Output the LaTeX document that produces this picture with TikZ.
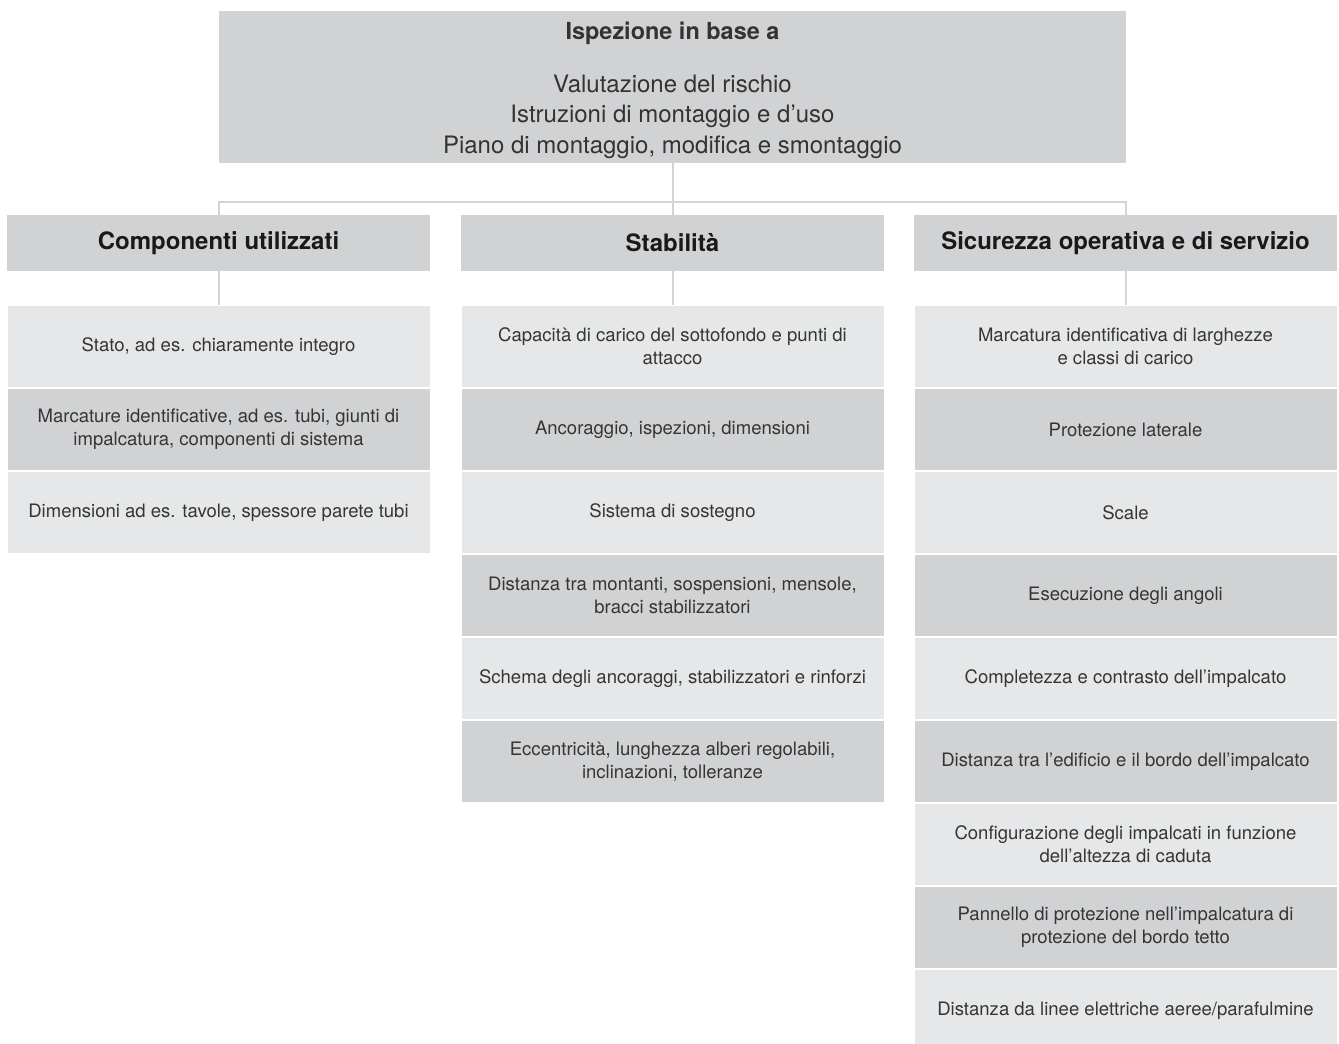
\documentclass[tikz,border=0pt]{standalone}
\usepackage{fontspec}
\setmainfont{TeX Gyre Heros}
\usepackage{xcolor}
\usetikzlibrary{positioning}

\definecolor{boxdark}{HTML}{D1D2D4}
\definecolor{boxlight}{HTML}{E6E7E8}
\definecolor{linegray}{HTML}{D3D4D6}
\definecolor{textgray}{HTML}{353535}

\begin{document}
\begin{tikzpicture}[
    x=0.75pt, y=-0.75pt,
    every node/.style={font=\fontsize{13.9}{17.3}\selectfont, text=textgray, align=center},
    topbox/.style={fill=boxdark, minimum width=680.25pt, minimum height=114pt, inner sep=0pt,
      font=\fontsize{18}{22.8}\selectfont, text=black!80},
    headbox/.style={fill=boxdark, minimum width=317.25pt, minimum height=42pt, inner sep=0pt,
      font=\fontsize{18}{21}\selectfont\bfseries, text=black!90},
    itemlight/.style={fill=boxlight, draw=white, line width=0.75pt,
      minimum width=317.25pt, minimum height=61.5pt, inner sep=0pt},
    itemdark/.style={itemlight, fill=boxdark},
    link/.style={draw=linegray, line width=1.5pt},
  ]
  \useasboundingbox (0,0) rectangle (1339,1043);

  % top box
  \node[topbox] (top) at (672.5,87)
    {\rule{0pt}{18pt}{\fontsize{17.6}{21}\selectfont\bfseries Ispezione in base a}\\[17pt]
     Valutazione del rischio\\
     Istruzioni di montaggio e d’uso\\
     Piano di montaggio, modifica e smontaggio};

  % column heads
  \node[headbox] (comp) at (218.5,243) {Componenti utilizzati};
  \node[headbox] (stab) at (672.5,243) {Stabilità};
  \node[headbox] (sicur) at (1125.5,243) {Sicurezza operativa e di servizio};

  % first column
  \node[itemlight] (c1) at (218.5,346.5) {Stato, ad es. chiaramente integro};
  \node[itemdark, below=0pt of c1] (c2)
    {Marcature identificative, ad es. tubi, giunti di\\impalcatura, componenti di sistema};
  \node[itemlight, below=0pt of c2] (c3) {Dimensioni ad es. tavole, spessore parete tubi};

  % second column
  \node[itemlight] (s1) at (672.5,346.5)
    {Capacità di carico del sottofondo e punti di\\attacco};
  \node[itemdark, below=0pt of s1] (s2) {Ancoraggio, ispezioni, dimensioni};
  \node[itemlight, below=0pt of s2] (s3) {Sistema di sostegno};
  \node[itemdark, below=0pt of s3] (s4)
    {Distanza tra montanti, sospensioni, mensole,\\bracci stabilizzatori};
  \node[itemlight, below=0pt of s4] (s5)
    {Schema degli ancoraggi, stabilizzatori e rinforzi};
  \node[itemdark, below=0pt of s5] (s6)
    {Eccentricità, lunghezza alberi regolabili,\\inclinazioni, tolleranze};

  % third column
  \node[itemlight] (o1) at (1125.5,346.5)
    {Marcatura identificativa di larghezze\\e classi di carico};
  \node[itemdark, below=0pt of o1] (o2) {Protezione laterale};
  \node[itemlight, below=0pt of o2] (o3) {Scale};
  \node[itemdark, below=0pt of o3] (o4) {Esecuzione degli angoli};
  \node[itemlight, below=0pt of o4] (o5) {Completezza e contrasto dell’impalcato};
  \node[itemdark, below=0pt of o5] (o6)
    {Distanza tra l’edificio e il bordo dell’impalcato};
  \node[itemlight, below=0pt of o6] (o7)
    {Configurazione degli impalcati in funzione\\dell’altezza di caduta};
  \node[itemdark, below=0pt of o7] (o8)
    {Pannello di protezione nell’impalcatura di\\protezione del bordo tetto};
  \node[itemlight, below=0pt of o8] (o9)
    {Distanza da linee elettriche aeree/parafulmine};

  % connectors
  \coordinate (bar) at (672.5,202);
  \draw[link] (top.south) -- (stab.north);
  \draw[link] (comp.north) -- (comp.north |- bar) -- (sicur.north |- bar) -- (sicur.north);
  \draw[link] (comp.south) -- (c1.north);
  \draw[link] (stab.south) -- (s1.north);
  \draw[link] (sicur.south) -- (o1.north);
\end{tikzpicture}
\end{document}
